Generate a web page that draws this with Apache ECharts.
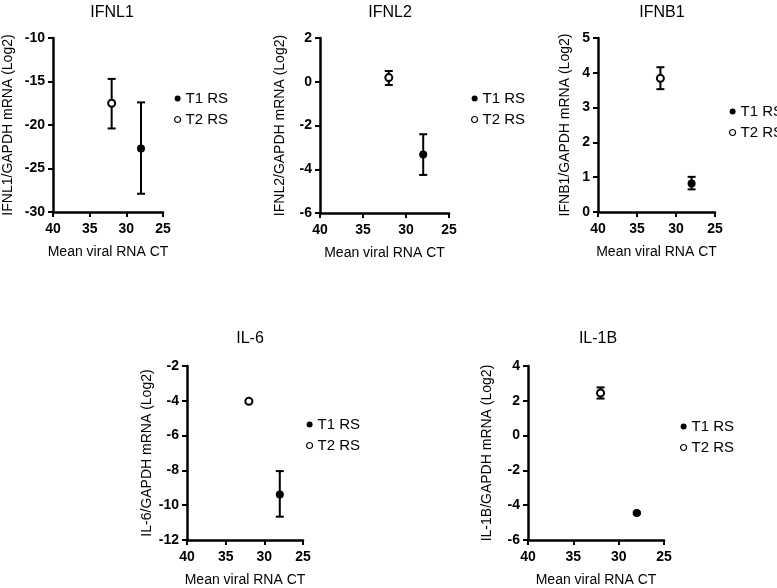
<!DOCTYPE html>
<html>
<head>
<meta charset="utf-8">
<script src="https://cdn.jsdelivr.net/npm/echarts@6/dist/echarts.min.js"></script>
<style>
html,body{margin:0;padding:0;background:#fff;}
#chart{width:777px;height:588px;}
</style>
</head>
<body>
<div id="chart"></div>
<script>
// ---- data ----
const panelTitles = ['IFNL1', 'IFNL2', 'IFNB1', 'IL-6', 'IL-1B'];
const yAxisNames = ['IFNL1/GAPDH mRNA (Log2)', 'IFNL2/GAPDH mRNA (Log2)', 'IFNB1/GAPDH mRNA (Log2)', 'IL-6/GAPDH mRNA (Log2)', 'IL-1B/GAPDH mRNA (Log2)'];
const xAxisName = 'Mean viral RNA CT';
const seriesNames = ['T1 RS', 'T2 RS'];
const yMin = [-30, -6, 0, -12, -6];
const yMax = [-10, 2, 5, -2, 4];
const yStep = [5, 2, 1, 2, 2];
const xMin = 25, xMax = 40, xStep = 5;

const t1CT   = [28, 28, 28, 28, 28];
const t1Mean = [-22.7, -3.32, 0.82, -9.38, -4.45];
const t1Low  = [-27.9, -4.26, 0.65, -10.66, -4.5];
const t1High = [-17.4, -2.4, 1.01, -8.04, -4.4];

const t2CT   = [32, 32, 32, 32, 32];
const t2Mean = [-17.5, 0.19, 3.84, -4.03, 2.45];
const t2Low  = [-20.4, -0.15, 3.53, -4.1, 2.13];
const t2High = [-14.7, 0.49, 4.16, -3.96, 2.77];

// ---- layout ----
const grids = [
  {left: 49, top: 38, width: 114, height: 174},
  {left: 320, top: 38, width: 129, height: 175},
  {left: 598, top: 38, width: 117, height: 174},
  {left: 187, top: 366, width: 116, height: 174},
  {left: 528, top: 366, width: 136, height: 176}
];
const yNameGap = [38, 33, 26, 33, 34];
const titlePos = [[107, 0], [385, 0], [657, 0], [245, 326], [593, 326]];
const legendPos = [[169, 86], [466, 86], [724, 99], [301, 412], [675, 414]];

const FONT = '"Liberation Sans", Arial, sans-serif';

const option = {
  backgroundColor: '#fff',
  animation: false,
  title: [], grid: [], xAxis: [], yAxis: [], series: [], legend: []
};

function errRender(params, api) {
  const x = api.value(0), lo = api.value(1), hi = api.value(2);
  const pLo = api.coord([x, lo]);
  const pHi = api.coord([x, hi]);
  const cap = 4;
  const style = {stroke: '#000', lineWidth: 2};
  return {
    type: 'group',
    children: [
      {type: 'line', shape: {x1: pLo[0], y1: pLo[1], x2: pHi[0], y2: pHi[1]}, style: style},
      {type: 'line', shape: {x1: pLo[0] - cap, y1: pLo[1], x2: pLo[0] + cap, y2: pLo[1]}, style: style},
      {type: 'line', shape: {x1: pHi[0] - cap, y1: pHi[1], x2: pHi[0] + cap, y2: pHi[1]}, style: style}
    ]
  };
}

for (let i = 0; i < panelTitles.length; i++) {
  option.title.push({
    text: panelTitles[i], left: titlePos[i][0], top: titlePos[i][1], textAlign: 'center',
    textStyle: {fontFamily: FONT, fontSize: 16, fontWeight: 'normal', color: '#000'}
  });
  option.grid.push(Object.assign({containLabel: false}, grids[i]));
  option.xAxis.push({
    gridIndex: i, type: 'value', min: xMin, max: xMax, interval: xStep, inverse: true,
    name: xAxisName, nameLocation: 'middle', nameGap: 33,
    nameTextStyle: {fontFamily: FONT, fontSize: 14, color: '#000'},
    axisLine: {show: true, onZero: false, lineStyle: {color: '#000', width: 2.5}},
    axisTick: {show: true, length: 5, lineStyle: {color: '#000', width: 2}},
    axisLabel: {fontFamily: FONT, fontSize: 14, fontWeight: 'bold', color: '#000', margin: 10},
    splitLine: {show: false}
  });
  option.yAxis.push({
    gridIndex: i, type: 'value', min: yMin[i], max: yMax[i], interval: yStep[i],
    name: yAxisNames[i], nameLocation: 'middle', nameGap: yNameGap[i],
    nameTextStyle: {fontFamily: FONT, fontSize: 14, color: '#000'},
    axisLine: {show: true, onZero: false, lineStyle: {color: '#000', width: 2.5}},
    axisTick: {show: true, length: 5, lineStyle: {color: '#000', width: 2}},
    axisLabel: {fontFamily: FONT, fontSize: 14, fontWeight: 'bold', color: '#000', margin: 8},
    splitLine: {show: false}
  });
  option.series.push({
    type: 'custom', xAxisIndex: i, yAxisIndex: i, renderItem: errRender, silent: true,
    data: [[t1CT[i], t1Low[i], t1High[i]], [t2CT[i], t2Low[i], t2High[i]]], z: 1
  });
  option.series.push({
    name: seriesNames[0], type: 'scatter', xAxisIndex: i, yAxisIndex: i,
    symbol: 'circle', symbolSize: 8,
    itemStyle: {color: '#000', borderColor: '#000', borderWidth: 0, opacity: 1},
    data: [[t1CT[i], t1Mean[i]]], z: 3
  });
  option.series.push({
    name: seriesNames[1], type: 'scatter', xAxisIndex: i, yAxisIndex: i,
    symbol: 'circle', symbolSize: 7,
    itemStyle: {color: '#fff', borderColor: '#000', borderWidth: 2, opacity: 1},
    data: [[t2CT[i], t2Mean[i]]], z: 3
  });
  option.legend.push({
    left: legendPos[i][0], top: legendPos[i][1], orient: 'vertical',
    itemWidth: 6, itemHeight: 6, itemGap: 6, selectedMode: false,
    textStyle: {fontFamily: FONT, fontSize: 15, color: '#000'},
    data: [
      {name: seriesNames[0], icon: 'circle', itemStyle: {color: '#000', borderWidth: 0}},
      {name: seriesNames[1], icon: 'circle', itemStyle: {color: '#fff', borderColor: '#000', borderWidth: 1.2}}
    ]
  });
}

const chart = echarts.init(document.getElementById('chart'), null, {renderer: 'canvas'});
chart.setOption(option);
</script>
</body>
</html>
